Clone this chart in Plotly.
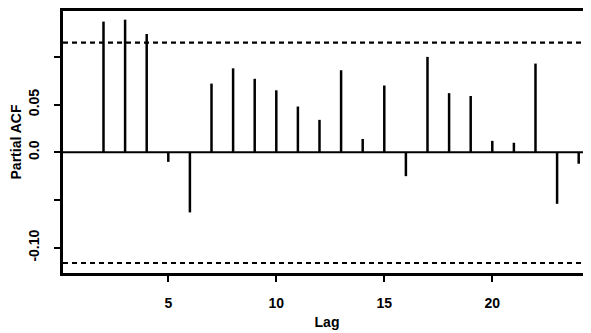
import plotly.graph_objects as go

lags = list(range(2, 25))
pacf = [0.137, 0.139, 0.124, -0.010, -0.063, 0.072, 0.088, 0.077, 0.065, 0.048,
        0.034, 0.086, 0.014, 0.070, -0.025, 0.100, 0.062, 0.059, 0.012, 0.010,
        0.093, -0.054, -0.012]
conf_upper = 0.115
conf_lower = -0.116
x_ticks = [5, 10, 15, 20]
y_ticks = [-0.10, -0.05, 0.0, 0.05, 0.10]
y_tick_labels = ["-0.10", "", "0.0", "0.05", ""]

xs, ys = [], []
for l, v in zip(lags, pacf):
    xs += [l, l, None]
    ys += [0, v, None]

fig = go.Figure()
fig.add_trace(go.Scatter(x=xs, y=ys, mode="lines",
                         line=dict(color="black", width=2.5), hoverinfo="skip"))

x0, x1 = 0.125, 24.57
fig.add_trace(go.Scatter(x=[x0, x1], y=[0, 0], mode="lines",
                         line=dict(color="black", width=2), hoverinfo="skip"))
for c in (conf_upper, conf_lower):
    fig.add_trace(go.Scatter(x=[x0, x1], y=[c, c], mode="lines",
                             line=dict(color="black", width=2.2, dash="5px,4px"),
                             hoverinfo="skip"))

font = dict(family="Liberation Sans, Arial, sans-serif", size=14, color="black")

# page body has an 8px default margin, so the figure is offset by 8px
fig.update_layout(
    width=583, height=325,
    margin=dict(l=55, r=0, t=3, b=60),
    paper_bgcolor="white", plot_bgcolor="white",
    showlegend=False,
    font=font,
    xaxis=dict(range=[x0, x1], tickvals=x_ticks, ticktext=[f"<b>{t}</b>" for t in x_ticks],
               showgrid=False, zeroline=False, showline=True, mirror=True,
               linecolor="black", linewidth=2.5, ticks="outside", ticklen=6,
               tickwidth=2, tickcolor="black", ticklabelstandoff=9, automargin=False,
               title=dict(text="<b>Lag</b>", font=dict(size=14), standoff=8)),
    yaxis=dict(range=[-0.1265, 0.1481], tickvals=y_ticks,
               ticktext=[f"<b>{t}</b>" if t else "" for t in y_tick_labels],
               showgrid=False, zeroline=False, showline=True, mirror=False,
               linecolor="black", linewidth=2.5, ticks="outside", ticklen=6,
               tickwidth=2, tickcolor="black", tickangle=-90, automargin=False,
               ticklabelstandoff=10,
               title=dict(text="<b>Partial ACF</b>", font=dict(size=14), standoff=4)),
)

fig.write_html("out.html")
